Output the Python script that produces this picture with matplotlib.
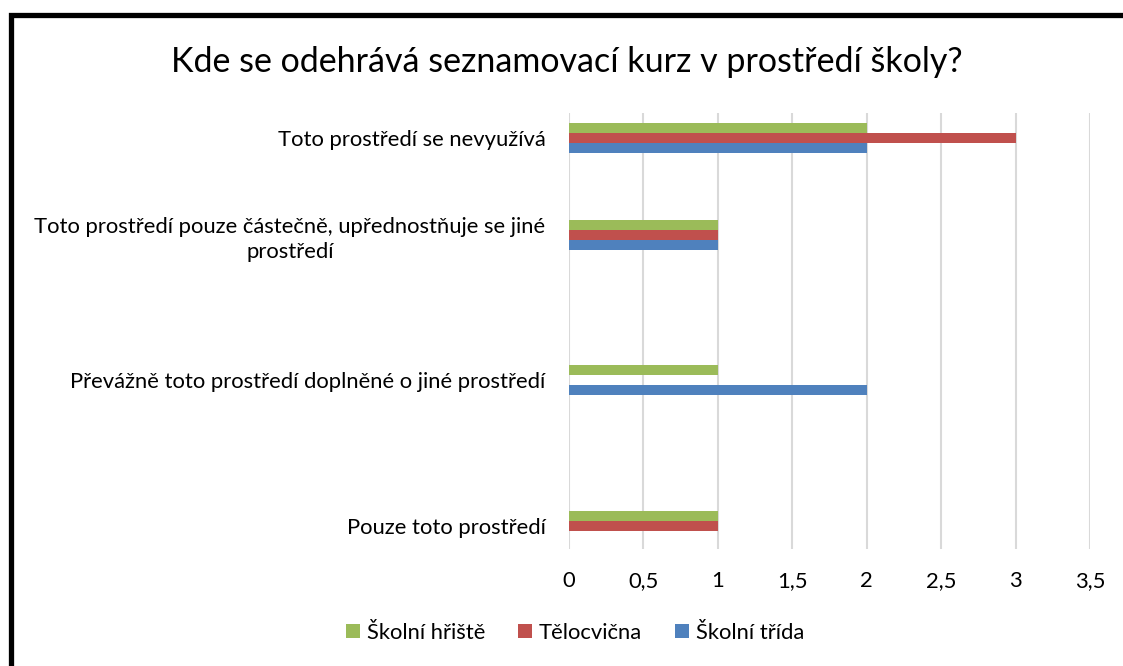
import matplotlib
matplotlib.use("Agg")
import matplotlib.pyplot as plt
from matplotlib.patches import Patch, Rectangle

plt.rcParams['font.family'] = ['Lato', 'DejaVu Sans']

title = "Kde se odehrává seznamovací kurz v prostředí školy?"
categories = [
    "Toto prostředí se nevyužívá",
    "Toto prostředí pouze částečně, upřednostňuje se jiné\nprostředí",
    "Převážně toto prostředí doplněné o jiné prostředí",
    "Pouze toto prostředí",
]
series_names = ["Školní hřiště", "Tělocvična", "Školní třída"]
skolni_hriste = [2, 1, 1, 1]
telocvicna = [3, 1, 0, 1]
skolni_trida = [2, 1, 2, 0]
xticks = [0, 0.5, 1, 1.5, 2, 2.5, 3, 3.5]
xtick_labels = ["0", "0,5", "1", "1,5", "2", "2,5", "3", "3,5"]

colors = ["#9BBB59", "#C0504D", "#4F81BD"]
# layout: group centres along the (inverted) category axis
group_pos = [0.227, 1.12, 2.45, 3.79]
bar_h = 0.092
offsets = [-bar_h, 0.0, bar_h]

fig = plt.figure(figsize=(11.23, 6.66), dpi=100)
ax = fig.add_axes([0.5067, 0.1757, 0.4639, 0.6546])

for vals, col, off in zip([skolni_hriste, telocvicna, skolni_trida], colors, offsets):
    ax.barh([p + off for p in group_pos], vals, height=bar_h, color=col, zorder=3)

fs = 15.8
ax.set_xlim(0, 3.5)
ax.set_ylim(4, 0)
ax.set_xticks(xticks)
ax.set_xticklabels(xtick_labels, fontsize=fs)
ax.set_yticks(group_pos)
ylabels = ax.set_yticklabels(categories, fontsize=fs)
for t in ylabels:
    t.set_multialignment('center')
    t.set_linespacing(1.3)
ax.tick_params(axis='both', length=0)
ax.tick_params(axis='x', pad=16)
ax.tick_params(axis='y', pad=17)
ax.grid(axis='x', color='#D9D9D9', linewidth=1.5, zorder=0)
for s in ax.spines.values():
    s.set_visible(False)

fig.text(0.505, 0.907, title, ha='center', va='center', fontsize=24.5)

handles = [Patch(facecolor=c) for c in colors]
fig.legend(handles, series_names, loc='center', bbox_to_anchor=(0.512, 0.05), ncol=3,
           frameon=False, fontsize=15.8, handlelength=0.65, handleheight=0.65,
           handletextpad=0.3, columnspacing=1.5)

fig.patches.append(Rectangle((10.5 / 1123, -0.05), 1.1, 1.05 - 14.5 / 666,
                             transform=fig.transFigure, fill=False,
                             edgecolor='black', linewidth=3.8))

fig.savefig("out.png", dpi=100)
